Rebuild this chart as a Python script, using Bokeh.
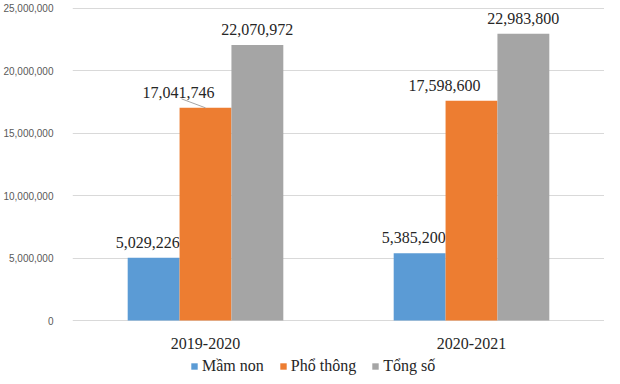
from bokeh.plotting import figure
from bokeh.models import ColumnDataSource, Legend, LegendItem, NumeralTickFormatter, FixedTicker, Range1d
from bokeh.transform import dodge
from bokeh.core.properties import value
from bokeh.embed import file_html
from bokeh.resources import INLINE

years = ["2019-2020", "2020-2021"]
mam_non = [5029226, 5385200]
pho_thong = [17041746, 17598600]
tong_so = [22070972, 22983800]
series_names = ["Mầm non", "Phổ thông", "Tổng số"]
colors = ["#5b9bd5", "#ed7d31", "#a5a5a5"]
y_ticks = [0, 5000000, 10000000, 15000000, 20000000, 25000000]

src = ColumnDataSource(dict(
    year=years,
    zero=[0] * len(years),
    mam_non=mam_non, pho_thong=pho_thong, tong_so=tong_so,
    mam_non_lbl=[f"{v:,}" for v in mam_non],
    pho_thong_lbl=[f"{v:,}" for v in pho_thong],
    tong_so_lbl=[f"{v:,}" for v in tong_so],
))

# frame spans the full height; the area below zero holds category labels and legend
p = figure(x_range=years, y_range=Range1d(-4487000, 25641000), width=604, height=376,
           output_backend="svg", toolbar_location=None,
           min_border_left=54, min_border_right=0, min_border_top=0, min_border_bottom=0)
p.outline_line_color = None
p.background_fill_color = "white"

bw = 0.195
offsets = [-bw, 0.0, bw]
fields = ["mam_non", "pho_thong", "tong_so"]
lbl_xoff = [-6, -27, 0]
renderers = []
for f, off, c, xo in zip(fields, offsets, colors, lbl_xoff):
    r = p.vbar(x=dodge("year", off, range=p.x_range), top=f, width=bw, source=src,
               fill_color=c, line_color=None)
    renderers.append(r)
    p.text(x=dodge("year", off, range=p.x_range), y=f, text=f + "_lbl", source=src,
           text_align="center", text_baseline="bottom", y_offset=-10, x_offset=xo,
           text_font=value("Liberation Serif"), text_font_size="16px", text_color="#262626")

# leader line for the first orange label
p.segment(x0=[(years[0], -0.09)], y0=[pho_thong[0] * 1.042], x1=[(years[0], 0.0)], y1=[pho_thong[0]],
          line_color="#a6a6a6", line_width=1)

# category labels
p.text(x="year", y="zero", text="year", source=src, text_align="center", text_baseline="middle",
       y_offset=23, text_font=value("Liberation Serif"), text_font_size="16px", text_color="#262626")

p.xaxis.visible = False

p.yaxis.ticker = FixedTicker(ticks=y_ticks)
p.yaxis.formatter = NumeralTickFormatter(format="0,0")
p.yaxis.axis_line_color = None
p.yaxis.major_tick_line_color = None
p.yaxis.minor_tick_line_color = None
p.yaxis.major_label_text_font = "Liberation Sans"
p.yaxis.major_label_text_font_size = "10px"
p.yaxis.major_label_text_color = "#595959"
p.yaxis.major_label_standoff = 13

p.xgrid.grid_line_color = None
p.ygrid.ticker = FixedTicker(ticks=y_ticks)
p.ygrid.grid_line_color = "#d9d9d9"
p.ygrid.grid_line_width = 1

legend = Legend(items=[LegendItem(label=n, renderers=[r]) for n, r in zip(series_names, renderers)],
                orientation="horizontal", location=(118, 1),
                label_text_font="Liberation Serif", label_text_font_size="16px",
                label_text_color="#262626", glyph_width=8, glyph_height=8, label_height=16,
                label_standoff=4, spacing=15, padding=0, margin=0,
                border_line_color=None, background_fill_alpha=0)
p.add_layout(legend, "center")

open("out.html", "w").write(file_html(p, INLINE))
